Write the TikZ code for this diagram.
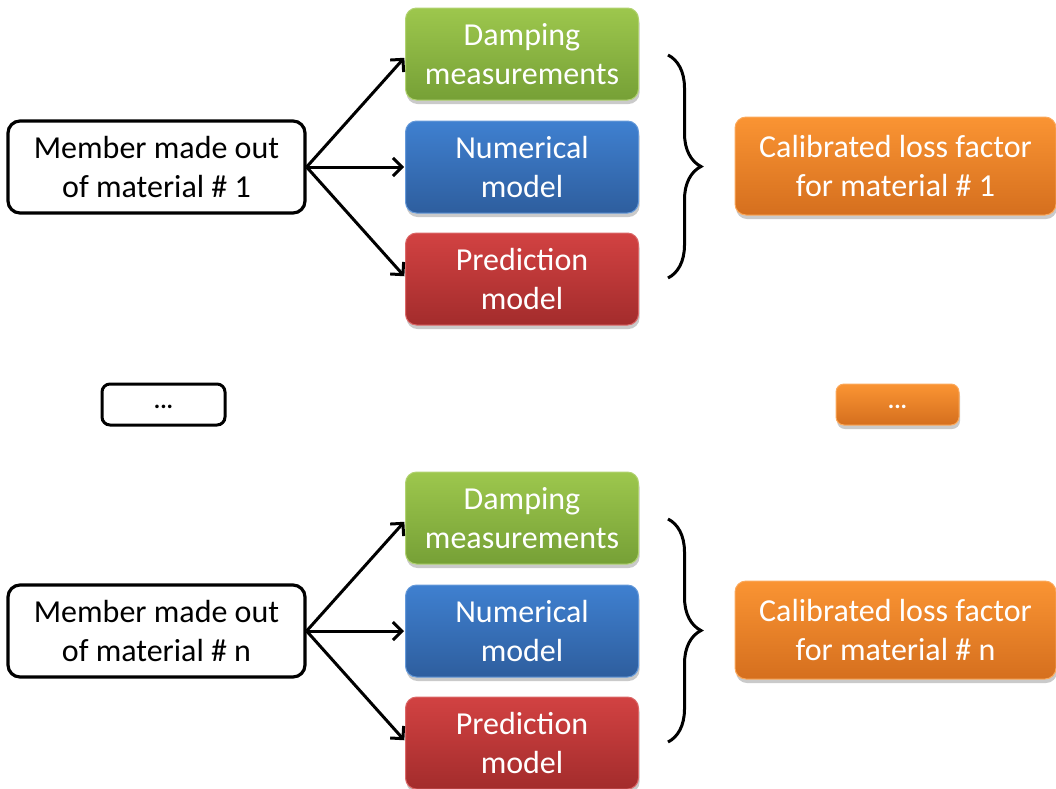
\documentclass[tikz,border=0pt]{standalone}
\usepackage{fontspec}
\setmainfont{Carlito}
\usetikzlibrary{arrows.meta,shadows,decorations.pathreplacing}
\tikzset{
  member/.style={draw=black, line width=3.2pt, rounded corners=12pt, fill=white,
    minimum width=297pt, minimum height=92pt, align=center, text=black,
    font=\fontsize{32}{38.5}\selectfont, inner sep=0pt},
  cbox/.style={rounded corners=11pt, minimum width=233pt, minimum height=92pt,
    align=center, text=white, font=\fontsize{32}{38.5}\selectfont, inner sep=0pt,
    line width=1pt,
    drop shadow={shadow xshift=1pt, shadow yshift=-4pt, opacity=0.35, fill=black!60}},
  greenbox/.style={cbox, top color=green1, bottom color=green2, draw=green1!80!white},
  bluebox/.style={cbox, top color=blue1, bottom color=blue2, draw=blue1!80!white},
  redbox/.style={cbox, top color=red1, bottom color=red2, draw=red1!80!white},
  orangebox/.style={cbox, top color=orange1, bottom color=orange2, draw=orange1!80!white},
  conn/.style={line width=3pt, -{Straight Barb[length=9pt,width=18pt,line width=3pt]}, shorten >=1pt},
  bracestyle/.style={line width=3pt, decorate, decoration={brace, amplitude=33pt, raise=0pt}},
}
\definecolor{green1}{HTML}{9DC74D}
\definecolor{green2}{HTML}{76A036}
\definecolor{blue1}{HTML}{3F80D0}
\definecolor{blue2}{HTML}{2E5E9E}
\definecolor{red1}{HTML}{D24242}
\definecolor{red2}{HTML}{A32C2C}
\definecolor{orange1}{HTML}{FA9433}
\definecolor{orange2}{HTML}{D56F1E}
\begin{document}
\begin{tikzpicture}[x=1pt, y=-1pt]
\useasboundingbox (0,0) rectangle (1056,788);
% group 1
\node[member] (m1) at (156.5,167) {Member made out\\of material \# 1};
\node[greenbox] (d1) at (522,54) {Damping\\measurements};
\node[bluebox] (n1) at (522,167) {Numerical\\model};
\node[redbox] (p1) at (522,279) {Prediction\\model};
\node[orangebox, minimum width=321pt, minimum height=98pt] (o1) at (895.5,166) {Calibrated loss factor\\for material \# 1};
\draw[conn] (m1.east) -- (d1.west |- 0,57);
\draw[conn] (m1.east) -- (n1.west);
\draw[conn] (m1.east) -- (p1.west |- 0,277);
\coordinate (b1t) at (668,55);
\coordinate (b1b) at (668,278);
\draw[bracestyle] (b1t) -- (b1b);
% middle
\node[member, line width=3pt, minimum width=123pt, minimum height=41pt, rounded corners=8pt] (mdots) at (163.5,404.5) {\raisebox{-8pt}{\fontsize{24}{28}\selectfont\textbf{...}}};
\node[orangebox, minimum width=123pt, minimum height=41pt, rounded corners=8pt] (odots) at (897.5,404.5) {\raisebox{-8pt}{\fontsize{24}{28}\selectfont\textbf{...}}};
% group n
\node[member] (m2) at (156.5,631) {Member made out\\of material \# n};
\node[greenbox] (d2) at (522,518) {Damping\\measurements};
\node[bluebox] (n2) at (522,631) {Numerical\\model};
\node[redbox] (p2) at (522,743) {Prediction\\model};
\node[orangebox, minimum width=321pt, minimum height=98pt] (o2) at (895.5,630) {Calibrated loss factor\\for material \# n};
\draw[conn] (m2.east) -- (d2.west |- 0,521);
\draw[conn] (m2.east) -- (n2.west);
\draw[conn] (m2.east) -- (p2.west |- 0,741);
\coordinate (b2t) at (668,519);
\coordinate (b2b) at (668,742);
\draw[bracestyle] (b2t) -- (b2b);
\end{tikzpicture}
\end{document}
